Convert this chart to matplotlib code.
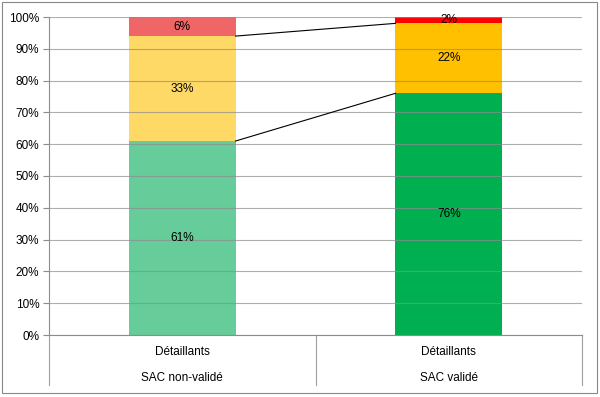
import matplotlib
matplotlib.use("Agg")
import matplotlib.pyplot as plt
from matplotlib.lines import Line2D
from matplotlib.patches import Rectangle

categories = ["Détaillants", "Détaillants"]
groups = ["SAC non-validé", "SAC validé"]
green = [61, 76]
yellow = [33, 22]
red = [6, 2]
labels_green = ["61%", "76%"]
labels_yellow = ["33%", "22%"]
labels_red = ["6%", "2%"]

colors = [
    {"g": "#66CC99", "y": "#FFD966", "r": "#F06666"},
    {"g": "#00B050", "y": "#FFC000", "r": "#FF0000"},
]

plt.rcParams['font.family'] = ['Liberation Sans', 'DejaVu Sans']
fig = plt.figure(figsize=(6, 3.97), dpi=100)
ax = fig.add_axes([49/600, 1-335/397, (582-49)/600, (335-17)/397])

fs = 8.5
x = [0, 1]
w = 0.4
for i in x:
    c = colors[i]
    ax.bar(i, green[i], w, color=c["g"], zorder=2)
    ax.bar(i, yellow[i], w, bottom=green[i], color=c["y"], zorder=2)
    ax.bar(i, red[i], w, bottom=green[i] + yellow[i], color=c["r"], zorder=2)
    ax.text(i, green[i] / 2, labels_green[i], ha="center", va="center", fontsize=fs, zorder=4)
    ax.text(i, green[i] + yellow[i] / 2, labels_yellow[i], ha="center", va="center", fontsize=fs, zorder=4)
    ax.text(i, green[i] + yellow[i] + red[i] / 2, labels_red[i], ha="center", va="center", fontsize=fs, zorder=4)

# series lines
ax.plot([w/2, 1 - w/2], [green[0], green[1]], color="black", lw=0.8, zorder=3)
ax.plot([w/2, 1 - w/2], [green[0] + yellow[0], green[1] + yellow[1]], color="black", lw=0.8, zorder=3)

ax.set_xlim(-0.5, 1.5)
ax.set_ylim(0, 100)
ax.set_yticks(range(0, 101, 10))
ax.set_yticklabels([f"{v}%" for v in range(0, 101, 10)], fontsize=fs)
ax.yaxis.grid(True, color="#8c8c8c", lw=0.8, zorder=3, alpha=0.7)
ax.set_axisbelow(False)
ax.set_xticks([])
for s in ["top", "right"]:
    ax.spines[s].set_visible(False)
ax.spines["left"].set_color("#8c8c8c")
ax.spines["bottom"].set_color("#8c8c8c")
ax.tick_params(axis="y", length=4, color="#8c8c8c", pad=3)

# two-level category axis
trans = ax.get_xaxis_transform()
for xv in [-0.5, 0.5, 1.5]:
    ax.add_line(Line2D([xv, xv], [0, -50/318], transform=trans, color="#a0a0a0", lw=0.8, clip_on=False))
for i in x:
    ax.text(i, -17/318, categories[i], transform=trans, ha="center", va="center", fontsize=fs)
    ax.text(i, -43/318, groups[i], transform=trans, ha="center", va="center", fontsize=fs)

fig.patches.append(Rectangle((2/600, 4/397), 595/600, 391/397, transform=fig.transFigure,
                             fill=False, edgecolor="#888888", lw=0.8))
fig.savefig("out.png", dpi=100)
